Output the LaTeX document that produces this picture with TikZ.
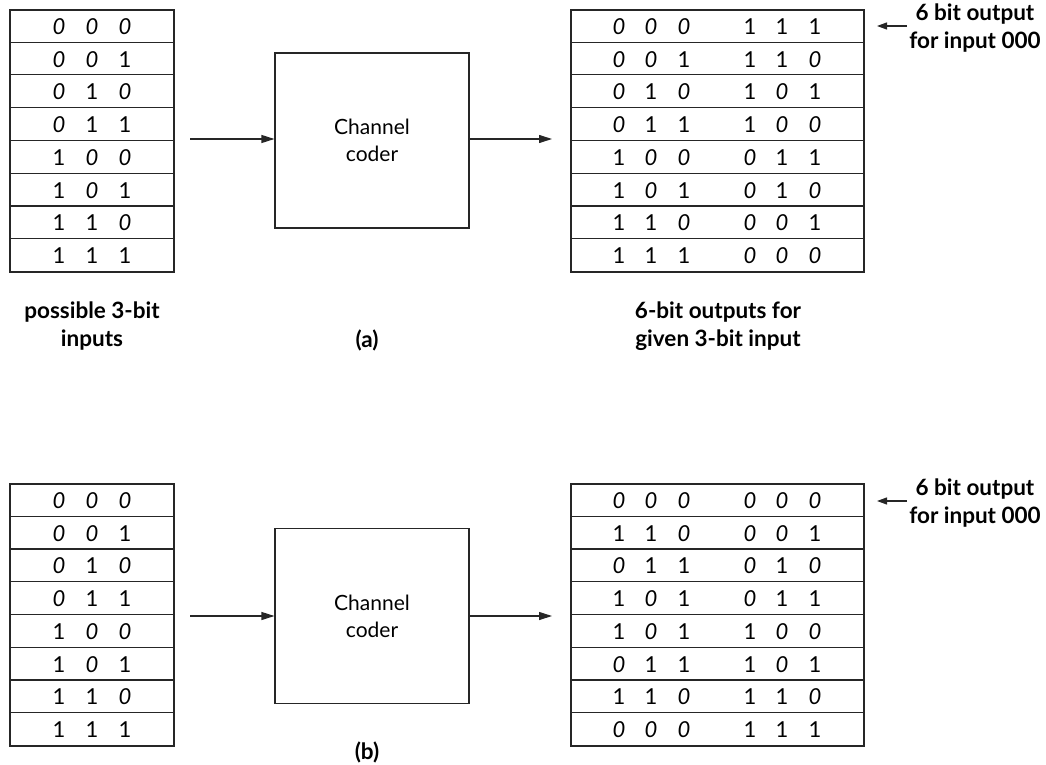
\documentclass[tikz,border=0pt]{standalone}
\usepackage{fontspec}
\setmainfont{Lato}
\usetikzlibrary{arrows.meta,calc}
\newcommand\bitd[1]{\ifnum#1=0 \textit{0}\else 1\fi}
\tikzset{
  lw/.style={line width=1.1pt, draw=black!85},
  tbl/.style={lw, rectangle, inner sep=0pt, minimum height=262pt},
  coder/.style={lw, rectangle, inner sep=0pt, minimum width=194pt, minimum height=175pt, align=center, font=\fontsize{21}{27}\selectfont},
  dig/.style={inner sep=0pt, font=\fontsize{22}{24}\selectfont},
  lbl/.style={inner sep=0pt, align=center, font=\fontsize{22.5}{28}\selectfont\bfseries},
  flow/.style={lw, -{Triangle[length=13pt,width=8pt]}},
  note/.style={lw, -{Triangle[length=10pt,width=7pt]}},
}
\begin{document}
\begin{tikzpicture}[x=1pt,y=-1pt]
\useasboundingbox (0,0) rectangle (1046,765);
% ---------- (a) ----------
\node[tbl, minimum width=164pt] (inA) at (92,141) {};
\node[tbl, minimum width=293pt] (outA) at (717.5,141) {};
\foreach \k in {1,...,7}{
  \draw[lw] ($(inA.north west)+(0,\k*32.75)$) -- ($(inA.north east)+(0,\k*32.75)$);
  \draw[lw] ($(outA.north west)+(0,\k*32.75)$) -- ($(outA.north east)+(0,\k*32.75)$);
}
\foreach \a/\b/\c/\d/\e/\f [count=\i from 0] in {0/0/0/1/1/1,0/0/1/1/1/0,0/1/0/1/0/1,0/1/1/1/0/0,1/0/0/0/1/1,1/0/1/0/1/0,1/1/0/0/0/1,1/1/1/0/0/0}{
  \pgfmathsetmacro\yy{10+16.4+\i*32.75}
  \node[dig] (ia\i-1) at (59,\yy) {\bitd{\a}};
  \node[dig] (ia\i-2) at (92,\yy) {\bitd{\b}};
  \node[dig] (ia\i-3) at (125,\yy) {\bitd{\c}};
  \node[dig] (oa\i-1) at (619,\yy) {\bitd{\a}};
  \node[dig] (oa\i-2) at (651,\yy) {\bitd{\b}};
  \node[dig] (oa\i-3) at (684,\yy) {\bitd{\c}};
  \node[dig] (oa\i-4) at (750,\yy) {\bitd{\d}};
  \node[dig] (oa\i-5) at (782,\yy) {\bitd{\e}};
  \node[dig] (oa\i-6) at (815,\yy) {\bitd{\f}};
}
\node[coder] (cA) at (372,140.5) {Channel\\coder};
\coordinate (sA) at (190,139);
\coordinate (eA) at (552,139);
\draw[flow] (sA) -- (sA -| cA.west);
\draw[flow] (eA -| cA.east) -- (eA);
\coordinate (nA) at (907,26);
\draw[note] (nA) -- (877,26);
\node[lbl] (tA) at (975,28) {6 bit output\\for input 000};
\node[lbl] (pA) at (92,326) {possible 3-bit\\inputs};
\node[lbl] (capA) at (367,340) {(a)};
\node[lbl] (gA) at (718,326) {6-bit outputs for\\given 3-bit input};
% ---------- (b) ----------
\node[tbl, minimum width=164pt] (inB) at (92,615) {};
\node[tbl, minimum width=293pt] (outB) at (717.5,615) {};
\foreach \k in {1,...,7}{
  \draw[lw] ($(inB.north west)+(0,\k*32.75)$) -- ($(inB.north east)+(0,\k*32.75)$);
  \draw[lw] ($(outB.north west)+(0,\k*32.75)$) -- ($(outB.north east)+(0,\k*32.75)$);
}
\foreach \a/\b/\c [count=\i from 0] in {0/0/0,0/0/1,0/1/0,0/1/1,1/0/0,1/0/1,1/1/0,1/1/1}{
  \pgfmathsetmacro\yy{484+16.4+\i*32.75}
  \node[dig] (ib\i-1) at (59,\yy) {\bitd{\a}};
  \node[dig] (ib\i-2) at (92,\yy) {\bitd{\b}};
  \node[dig] (ib\i-3) at (125,\yy) {\bitd{\c}};
}
\foreach \a/\b/\c/\d/\e/\f [count=\i from 0] in {0/0/0/0/0/0,1/1/0/0/0/1,0/1/1/0/1/0,1/0/1/0/1/1,1/0/1/1/0/0,0/1/1/1/0/1,1/1/0/1/1/0,0/0/0/1/1/1}{
  \pgfmathsetmacro\yy{484+16.4+\i*32.75}
  \node[dig] (ob\i-1) at (619,\yy) {\bitd{\a}};
  \node[dig] (ob\i-2) at (651,\yy) {\bitd{\b}};
  \node[dig] (ob\i-3) at (684,\yy) {\bitd{\c}};
  \node[dig] (ob\i-4) at (750,\yy) {\bitd{\d}};
  \node[dig] (ob\i-5) at (782,\yy) {\bitd{\e}};
  \node[dig] (ob\i-6) at (815,\yy) {\bitd{\f}};
}
\node[coder] (cB) at (372,616) {Channel\\coder};
\coordinate (sB) at (190,616);
\coordinate (eB) at (552,616);
\draw[flow] (sB) -- (sB -| cB.west);
\draw[flow] (eB -| cB.east) -- (eB);
\coordinate (nB) at (907,501);
\draw[note] (nB) -- (877,501);
\node[lbl] (tB) at (975,503) {6 bit output\\for input 000};
\node[lbl] (capB) at (367,752) {(b)};
\end{tikzpicture}
\end{document}
